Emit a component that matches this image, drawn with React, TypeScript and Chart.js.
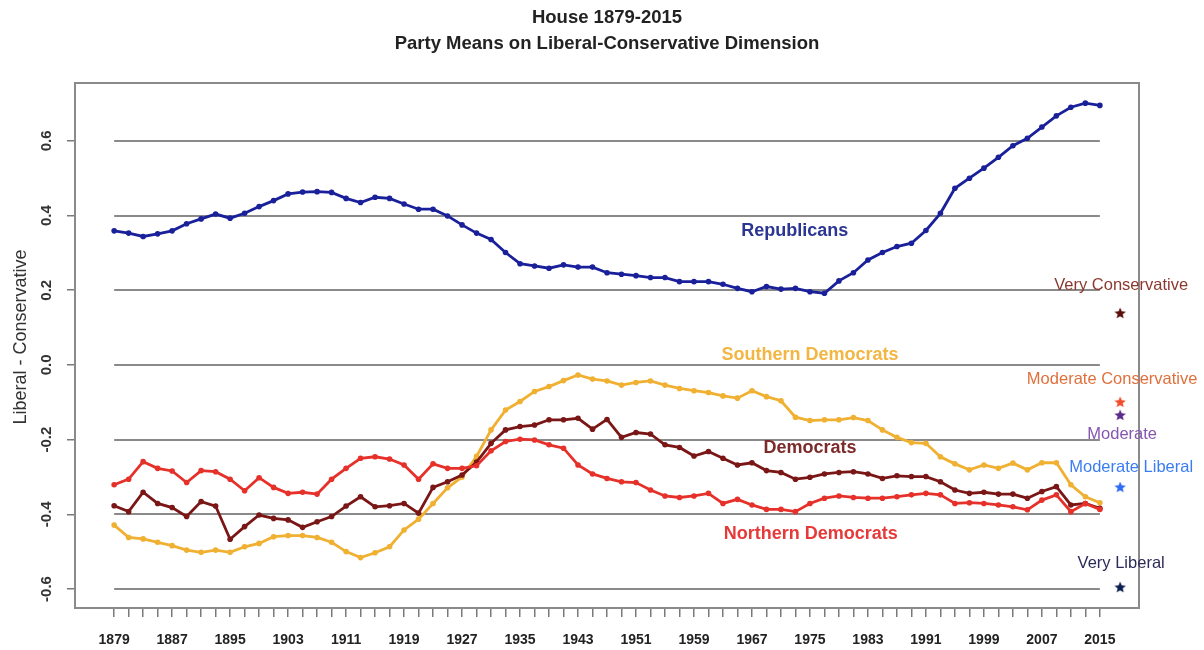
import React, { useEffect, useRef } from "react";
import { Chart, registerables } from "chart.js";

Chart.register(...registerables);

// Congress start years
const years = [
  1879, 1881, 1883, 1885, 1887, 1889, 1891, 1893, 1895, 1897,
  1899, 1901, 1903, 1905, 1907, 1909, 1911, 1913, 1915, 1917,
  1919, 1921, 1923, 1925, 1927, 1929, 1931, 1933, 1935, 1937,
  1939, 1941, 1943, 1945, 1947, 1949, 1951, 1953, 1955, 1957,
  1959, 1961, 1963, 1965, 1967, 1969, 1971, 1973, 1975, 1977,
  1979, 1981, 1983, 1985, 1987, 1989, 1991, 1993, 1995, 1997,
  1999, 2001, 2003, 2005, 2007, 2009, 2011, 2013, 2015,
];

const republicans = [
  0.359, 0.353, 0.344, 0.351, 0.359, 0.378, 0.391, 0.404, 0.393, 0.406,
  0.424, 0.440, 0.458, 0.463, 0.464, 0.462, 0.446, 0.435, 0.449, 0.446,
  0.431, 0.417, 0.417, 0.399, 0.375, 0.353, 0.336, 0.301, 0.271, 0.265,
  0.259, 0.268, 0.262, 0.262, 0.247, 0.243, 0.239, 0.234, 0.234, 0.223,
  0.223, 0.223, 0.216, 0.205, 0.196, 0.210, 0.203, 0.205, 0.196, 0.192,
  0.225, 0.247, 0.281, 0.301, 0.317, 0.326, 0.360, 0.406, 0.473, 0.500,
  0.527, 0.556, 0.587, 0.607, 0.637, 0.667, 0.690, 0.701, 0.695,
];

const southernDemocrats = [
  -0.429, -0.462, -0.466, -0.475, -0.484, -0.496, -0.502, -0.496, -0.502, -0.487,
  -0.478, -0.460, -0.457, -0.457, -0.462, -0.475, -0.500, -0.516, -0.503, -0.487,
  -0.442, -0.413, -0.371, -0.329, -0.300, -0.245, -0.174, -0.121, -0.098, -0.071,
  -0.058, -0.042, -0.027, -0.038, -0.043, -0.054, -0.047, -0.043, -0.054, -0.063,
  -0.069, -0.074, -0.083, -0.089, -0.069, -0.085, -0.096, -0.140, -0.149, -0.147,
  -0.147, -0.141, -0.149, -0.174, -0.194, -0.208, -0.210, -0.246, -0.265, -0.281,
  -0.268, -0.277, -0.263, -0.281, -0.262, -0.262, -0.321, -0.353, -0.369,
];

const democrats = [
  -0.377, -0.393, -0.341, -0.371, -0.382, -0.406, -0.366, -0.378, -0.467, -0.433,
  -0.402, -0.411, -0.415, -0.435, -0.420, -0.406, -0.378, -0.353, -0.380, -0.377,
  -0.371, -0.397, -0.328, -0.313, -0.295, -0.260, -0.210, -0.174, -0.165, -0.161,
  -0.147, -0.147, -0.143, -0.172, -0.146, -0.194, -0.181, -0.185, -0.214, -0.221,
  -0.244, -0.232, -0.250, -0.268, -0.262, -0.283, -0.288, -0.306, -0.301, -0.292,
  -0.288, -0.286, -0.292, -0.304, -0.297, -0.299, -0.299, -0.313, -0.335, -0.344,
  -0.341, -0.346, -0.346, -0.357, -0.339, -0.326, -0.375, -0.371, -0.384,
];

const northernDemocrats = [
  -0.321, -0.306, -0.259, -0.277, -0.284, -0.315, -0.283, -0.286, -0.306, -0.337,
  -0.302, -0.328, -0.344, -0.341, -0.346, -0.306, -0.277, -0.250, -0.246, -0.252,
  -0.268, -0.306, -0.265, -0.277, -0.277, -0.270, -0.230, -0.205, -0.199, -0.201,
  -0.214, -0.223, -0.268, -0.292, -0.304, -0.313, -0.315, -0.335, -0.351, -0.355,
  -0.351, -0.344, -0.371, -0.360, -0.375, -0.387, -0.387, -0.393, -0.371, -0.357,
  -0.351, -0.355, -0.357, -0.357, -0.353, -0.348, -0.344, -0.348, -0.371, -0.369,
  -0.371, -0.375, -0.380, -0.388, -0.362, -0.348, -0.393, -0.371, -0.387,
];

const xTickLabels = [
  1879, 1887, 1895, 1903, 1911, 1919, 1927, 1935, 1943,
  1951, 1959, 1967, 1975, 1983, 1991, 1999, 2007, 2015,
];
const yTickValues = [-0.6, -0.4, -0.2, 0.0, 0.2, 0.4, 0.6];

// Reference points on the ideology scale
const scaleNames = ["Very Conservative", "Moderate Conservative", "Moderate", "Moderate Liberal", "Very Liberal"];
const scaleValues = [0.139, -0.099, -0.134, -0.327, -0.595];
const scaleYear = 2017.8;

const FONT = '"Liberation Sans", Arial, Helvetica, sans-serif';

const series = [
  { name: "Republicans", data: republicans, color: "#19209a", text: "#2b3592", at: [1972.9, 0.359] },
  { name: "Southern Democrats", data: southernDemocrats, color: "#f0b032", text: "#f2b642", at: [1975.0, 0.027] },
  { name: "Democrats", data: democrats, color: "#7a1616", text: "#7c2a2a", at: [1975.0, -0.222] },
  { name: "Northern Democrats", data: northernDemocrats, color: "#e6302a", text: "#e63a3a", at: [1975.1, -0.453] },
];

const scaleStyles = [
  { star: "#5a0e0a", text: "#8a3a2e", dx: 1, dy: -28 },
  { star: "#f04e2c", text: "#e0703c", dx: -8, dy: -22 },
  { star: "#5c2a88", text: "#8656b0", dx: 2, dy: 20 },
  { star: "#2f6cf5", text: "#3b7cf0", dx: 11, dy: -20 },
  { star: "#0c1e50", text: "#2c2c5a", dx: 1, dy: -24 },
];

function starImage(color: string, size: number) {
  const c = document.createElement("canvas");
  c.width = size;
  c.height = size;
  const g = c.getContext("2d")!;
  const cx = size / 2, cy = size / 2 + 0.5;
  const R = size / 2, r = R * 0.45;
  g.beginPath();
  for (let i = 0; i < 10; i++) {
    const rad = i % 2 === 0 ? R : r;
    const ang = -Math.PI / 2 + (i * Math.PI) / 5;
    const px = cx + rad * Math.cos(ang), py = cy + rad * Math.sin(ang);
    if (i === 0) g.moveTo(px, py);
    else g.lineTo(px, py);
  }
  g.closePath();
  g.fillStyle = color;
  g.fill();
  return c;
}

const decor = {
  id: "decor",
  beforeDatasetsDraw(chart: any) {
    const { ctx, chartArea: a, scales } = chart;
    const x = scales.x, y = scales.y;
    ctx.save();
    ctx.strokeStyle = "#8a8a8a";
    ctx.lineWidth = 2;
    const x0 = x.getPixelForValue(years[0]);
    const x1 = x.getPixelForValue(years[years.length - 1]);
    for (const v of yTickValues) {
      const py = Math.round(y.getPixelForValue(v));
      ctx.beginPath();
      ctx.moveTo(x0, py);
      ctx.lineTo(x1, py);
      ctx.stroke();
    }
    ctx.strokeRect(a.left, a.top, a.width, a.height);
    ctx.restore();
  },
  afterDraw(chart: any) {
    const { ctx, chartArea: a, scales } = chart;
    const x = scales.x, y = scales.y;
    ctx.save();
    ctx.textAlign = "center";
    ctx.textBaseline = "middle";

    // Title
    const cx = (a.left + a.right) / 2;
    ctx.fillStyle = "#222";
    ctx.font = `bold 18.5px ${FONT}`;
    ctx.fillText("House 1879-2015", cx, 18);
    ctx.fillText("Party Means on Liberal-Conservative Dimension", cx, 44);

    // Y tick labels, rotated parallel to the axis
    ctx.font = `bold 15px ${FONT}`;
    ctx.fillStyle = "#333";
    for (const v of yTickValues) {
      const py = y.getPixelForValue(v);
      ctx.save();
      ctx.translate(47, py);
      ctx.rotate(-Math.PI / 2);
      ctx.fillText(v.toFixed(1), 0, 0);
      ctx.restore();
    }

    // Y axis title
    ctx.save();
    ctx.font = `18px ${FONT}`;
    ctx.fillStyle = "#333";
    ctx.translate(21, 337);
    ctx.rotate(-Math.PI / 2);
    ctx.fillText("Liberal - Conservative", 0, 0);
    ctx.restore();

    // Series names
    ctx.font = `bold 18px ${FONT}`;
    for (const s of series) {
      ctx.fillStyle = s.text;
      ctx.fillText(s.name, x.getPixelForValue(s.at[0]), y.getPixelForValue(s.at[1]));
    }

    // Scale point names
    ctx.font = `16.5px ${FONT}`;
    scaleNames.forEach((name, i) => {
      const st = scaleStyles[i];
      ctx.fillStyle = st.text;
      ctx.fillText(name, x.getPixelForValue(scaleYear) + st.dx, y.getPixelForValue(scaleValues[i]) + st.dy);
    });
    ctx.restore();
  },
};

export default function App() {
  const ref = useRef<HTMLCanvasElement>(null);

  useEffect(() => {
    const canvas = ref.current;
    if (!canvas) return;

    const lineSets = series.map((s, i) => ({
      label: s.name,
      data: years.map((yr, k) => ({ x: yr, y: s.data[k] })),
      borderColor: s.color,
      backgroundColor: s.color,
      borderWidth: 2.8,
      pointRadius: 2.8,
      pointBorderWidth: 0,
      pointBackgroundColor: s.color,
      tension: 0,
      order: 10 - i,
    }));

    const stars = {
      label: "scale",
      data: scaleValues.map((v) => ({ x: scaleYear, y: v })),
      showLine: false,
      pointStyle: scaleStyles.map((st) => starImage(st.star, 12)),
      pointRadius: 6,
      order: 0,
    };

    const chart = new Chart(canvas, {
      type: "line",
      data: { datasets: [...lineSets, stars] as any },
      options: {
        animation: false,
        responsive: false,
        devicePixelRatio: 1,
        layout: { padding: { left: 0, top: 83, right: 65, bottom: 0 } },
        plugins: { legend: { display: false }, tooltip: { enabled: false }, title: { display: false } },
        scales: {
          x: {
            type: "linear",
            min: 1873.6,
            max: 2020.4,
            afterBuildTicks: (s: any) => {
              s.ticks = years.map((v) => ({ value: v }));
            },
            afterFit: (s: any) => {
              s.height = 42;
            },
            border: { display: false },
            grid: { drawOnChartArea: false, drawTicks: true, tickLength: 9, color: "#7a7a7a", lineWidth: 1.5 },
            ticks: {
              autoSkip: false,
              maxRotation: 0,
              minRotation: 0,
              padding: 15,
              color: "#222",
              font: { family: FONT, size: 14, weight: "bold" },
              callback: (v: any) => (xTickLabels.includes(Number(v)) ? String(v) : ""),
            },
          },
          y: {
            type: "linear",
            min: -0.651,
            max: 0.755,
            afterBuildTicks: (s: any) => {
              s.ticks = yTickValues.map((v) => ({ value: v }));
            },
            afterFit: (s: any) => {
              s.width = 75;
            },
            border: { display: false },
            grid: { drawOnChartArea: false, drawTicks: true, tickLength: 8, color: "#7a7a7a", lineWidth: 1.5 },
            ticks: { display: false },
          },
        },
      },
      plugins: [decor],
    });

    return () => chart.destroy();
  }, []);

  return (
    <div style={{ position: "absolute", left: 0, top: 0, width: 1204, height: 650, background: "#fff" }}>
      <canvas ref={ref} width={1204} height={650} style={{ display: "block" }} />
    </div>
  );
}
